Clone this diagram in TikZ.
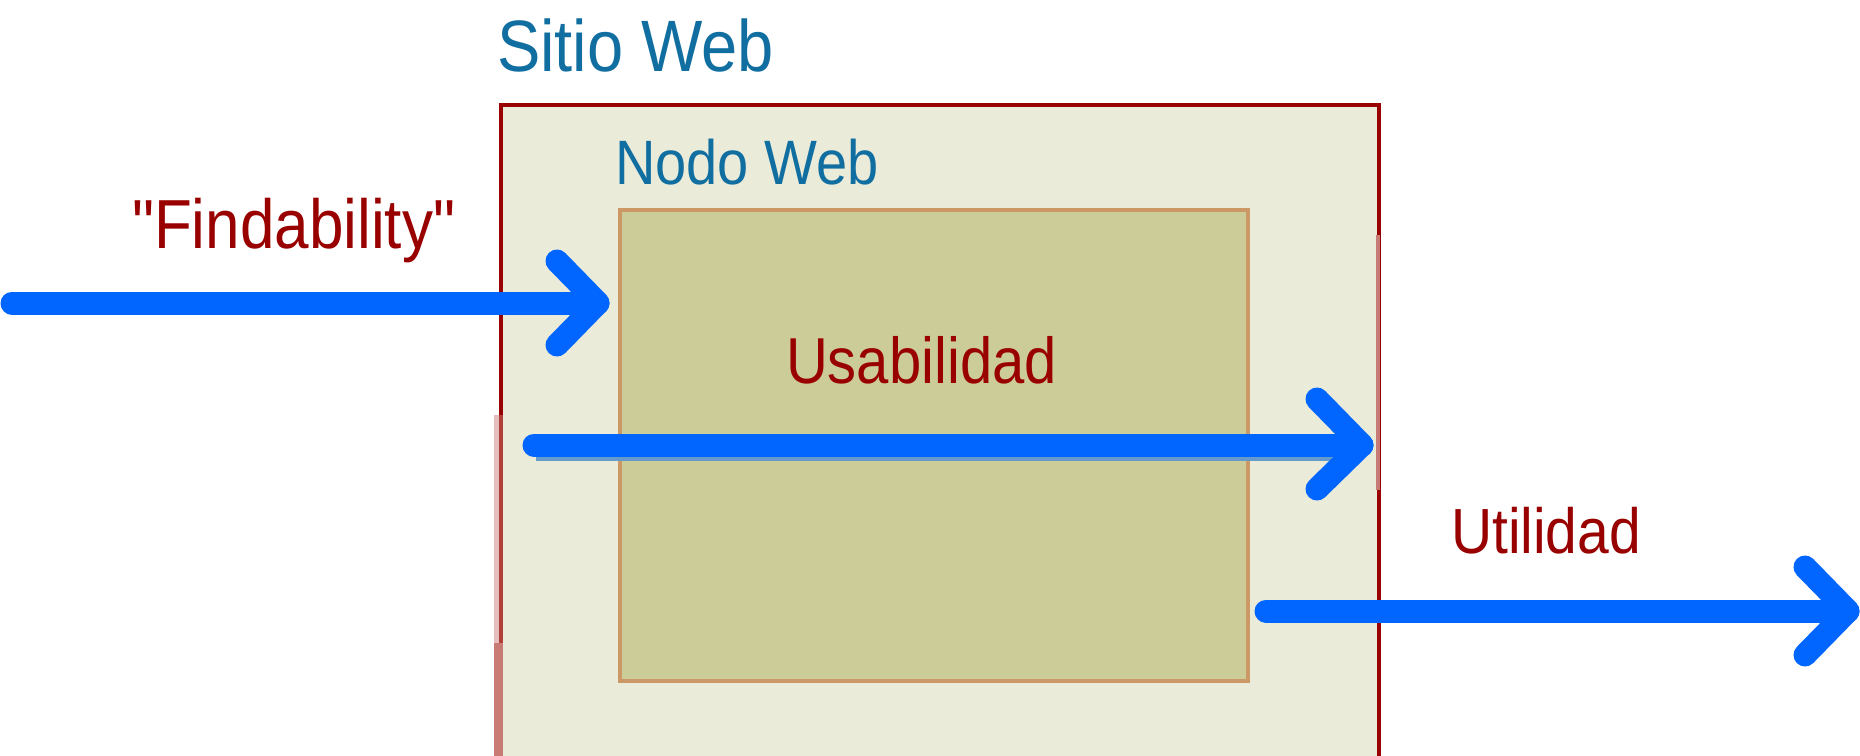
\documentclass[tikz,border=0pt]{standalone}
\usepackage{fontspec}
\setmainfont{Liberation Sans}
\newfontfamily\rawfont{Liberation Sans}
\usepackage{graphicx}
\definecolor{outerfill}{RGB}{235,235,218}
\definecolor{innerfill}{RGB}{204,204,153}
\definecolor{innerline}{RGB}{204,153,102}
\definecolor{darkred}{RGB}{153,0,0}
\definecolor{midred}{RGB}{176,64,58}
\definecolor{pinkred}{RGB}{200,122,116}
\definecolor{palepink}{RGB}{230,190,190}
\definecolor{txtblue}{RGB}{16,110,160}
\definecolor{arrblue}{RGB}{0,102,255}
\definecolor{shadeblue}{RGB}{102,153,204}
\begin{document}
\begin{tikzpicture}[x=1pt,y=-1pt,
  lbl/.style={anchor=base west, inner sep=0pt, outer sep=0pt},
  bluelbl/.style={lbl, text=txtblue},
  redlbl/.style={lbl, text=darkred},
  flow/.style={draw=arrblue, line width=23pt, line cap=round, line join=round},
  outerbox/.style={rectangle, fill=outerfill, draw=darkred, line width=4.5pt, inner sep=0pt},
  innerbox/.style={rectangle, fill=innerfill, draw=innerline, line width=4.5pt, inner sep=0pt},
]
\useasboundingbox (0,0) rectangle (1860,755);
\clip (0,0) rectangle (1860,755);
\fill[white] (0,0) rectangle (1860,755);

% boxes
\node[outerbox, minimum width=878pt, minimum height=800pt] (sitio) at (940,505) {};
% border shading seen in the reference
\draw[palepink, line width=5pt] (496.5,415) -- (496.5,643);
\draw[midred, line width=4.5pt] (501,415) -- (501,643);
\draw[pinkred, line width=9pt] (498.5,643) -- (498.5,760);
\draw[pinkred, line width=4.5pt] (1378,235) -- (1378,490);
\node[innerbox, minimum width=628pt, minimum height=471pt] (nodo) at (934,445.5) {};

% labels
\node[bluelbl, font=\fontsize{65}{78}\selectfont] (tsitio) at (497,71) {\scalebox{1}[1.12]{Sitio Web}};
\node[bluelbl, font=\fontsize{56}{67}\selectfont] (tnodo) at (615,184) {\scalebox{1}[1.12]{Nodo Web}};
\node[redlbl, font=\rawfont\fontsize{62}{74}\selectfont] (tfind) at (132,248) {\scalebox{1}[1.12]{"Findability"}};
\node[redlbl, font=\fontsize{58}{70}\selectfont] (tusab) at (786,383) {\scalebox{1}[1.12]{Usabilidad}};
\node[redlbl, font=\fontsize{57}{68}\selectfont] (tutil) at (1451,553) {\scalebox{1}[1.12]{Utilidad}};

% arrow 1: Findability
\coordinate (a1s) at (12,303);
\coordinate (a1t) at (598,303);
\coordinate (a1u) at (557,261);
\coordinate (a1d) at (557,345);
\draw[flow] (a1s) -- (a1t);
\draw[flow] (a1u) -- (a1t) -- (a1d);

% arrow 2: Usabilidad
\coordinate (a2s) at (534,445);
\coordinate (a2t) at (1362,445);
\coordinate (a2u) at (1317,399);
\coordinate (a2d) at (1317,489);
\draw[shadeblue, line width=6pt] (536,458) -- (1340,458);
\draw[flow] (a2s) -- (a2t);
\draw[flow] (a2u) -- (a2t) -- (a2d);

% arrow 3: Utilidad
\coordinate (a3s) at (1266,611);
\coordinate (a3t) at (1848,611);
\coordinate (a3u) at (1805,567);
\coordinate (a3d) at (1805,655);
\draw[flow] (a3s) -- (a3t);
\draw[flow] (a3u) -- (a3t) -- (a3d);
\end{tikzpicture}
\end{document}
